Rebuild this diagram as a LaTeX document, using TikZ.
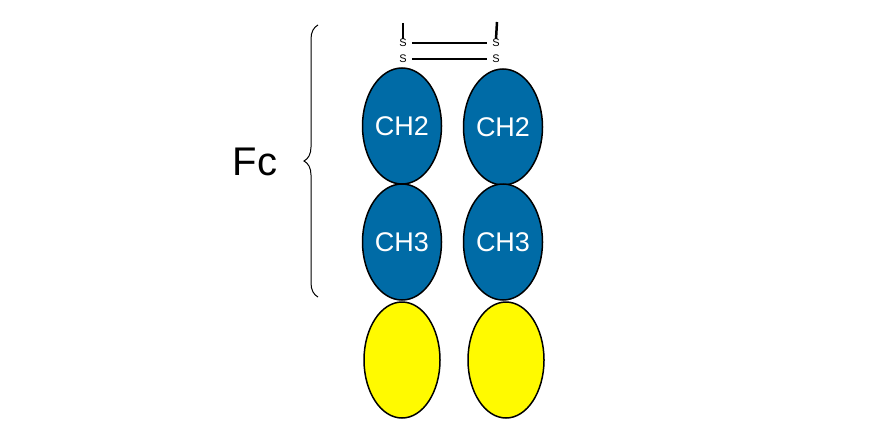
\documentclass[tikz,border=0pt]{standalone}
\usepackage{fontspec}
\setmainfont{Liberation Sans}
\usetikzlibrary{decorations.pathreplacing,shapes.geometric}
\definecolor{dblue}{RGB}{0,107,166}
\definecolor{dyel}{RGB}{255,250,0}
\begin{document}
\begin{tikzpicture}[x=1pt,y=-1pt,
  dom/.style={draw=black,line width=1.5pt,ellipse,minimum width=79pt,minimum height=116pt,inner sep=0pt,text=white,font=\fontsize{27}{27}\selectfont},
  bdom/.style={dom,fill=dblue},
  ydom/.style={dom,fill=dyel,minimum width=76pt},
  sl/.style={font=\fontsize{11}{11}\selectfont,inner sep=0pt}]
\useasboundingbox (0,0) rectangle (880,428);
\node[bdom] (l2) at (402,126) {CH2};
\node[bdom] (l3) at (402,242) {CH3};
\node[ydom] (l4) at (402,360) {};
\node[bdom] (r2) at (503,127) {CH2};
\node[bdom] (r3) at (503,242) {CH3};
\node[ydom] (r4) at (506,360) {};
\node[sl] (ls1) at (403,43) {S};
\node[sl] (ls2) at (403,59) {S};
\node[sl] (rs1) at (496,43) {S};
\node[sl] (rs2) at (496,59) {S};
\coordinate (lt) at (403,23);
\coordinate (rt) at (497,22);
\draw[line width=2.5pt] (lt) -- (ls1.north);
\draw[line width=2.5pt] (rt) -- (rs1.north);
\draw[line width=1.3pt] ([xshift=5pt]ls1.east) -- ([xshift=-5pt]rs1.west);
\draw[line width=1.3pt] ([xshift=5pt]ls2.east) -- ([xshift=-5pt]rs2.west);
\coordinate (bt) at (318,25);
\coordinate (bb) at (318,297);
\draw[line width=1pt,decorate,decoration={brace,amplitude=14pt}] (bb) -- (bt);
\node[font=\fontsize{40}{40}\selectfont,inner sep=0pt] (fc) at (255,162) {Fc};
\end{tikzpicture}
\end{document}
